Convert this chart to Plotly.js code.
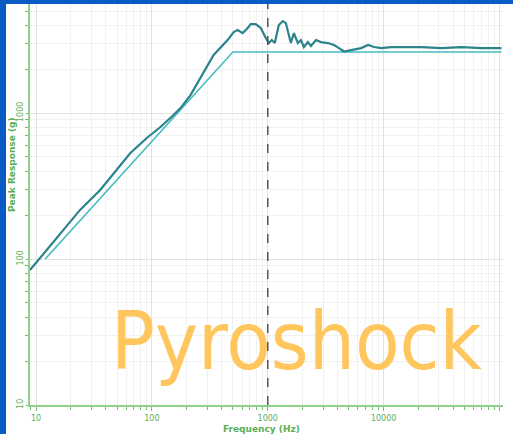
<!DOCTYPE html>
<html>
<head>
<meta charset="utf-8">
<script src="https://cdn.plot.ly/plotly-3.0.1.min.js"></script>
<style>html,body{margin:0;padding:0;background:#0a5bc4;}#chart{width:513px;height:434px;}</style>
</head>
<body>
<div id="chart"></div>
<script>
// Measured shock response spectrum (Hz, g)
var measFreq = [8.87, 13.2, 17.8, 24.0, 35.8, 46.4, 65.2, 91.4, 118.6, 153.6, 176.5, 215.4, 263, 341, 450, 508, 550, 607, 671, 713, 787, 870, 961, 1020, 1083, 1150, 1245, 1349, 1432, 1520, 1582, 1680, 1818, 1931, 2050, 2220, 2357, 2604, 2876, 3307, 3727, 4118, 4550, 5231, 6388, 7344, 8275, 9515, 11612, 14175, 17300, 21120, 31460, 46880, 69870, 104000];
var measG = [84, 123, 163, 217, 297, 382, 532, 680, 802, 969, 1082, 1328, 1737, 2497, 3162, 3587, 3703, 3530, 3822, 4070, 4070, 3822, 3263, 3017, 3162, 3017, 4006, 4267, 4134, 3422, 3017, 3530, 3017, 3162, 2832, 3064, 2876, 3162, 3064, 3017, 2923, 2787, 2640, 2701, 2787, 2923, 2832, 2787, 2832, 2832, 2832, 2832, 2787, 2832, 2787, 2787];
// Specification (Hz, g)
var specFreq = [12, 500, 104000];
var specG = [100, 2617, 2617];
var xTicks = [10, 100, 1000, 10000, 100000];
var xTickText = ['10', '100', '1000', '10000', '100000'];
var yTicks = [10, 100, 1000];
var yTickText = ['10', '100', '1000'];
var minorDigits = [2, 3, 4, 5, 6, 7, 8, 9];
var xDecades = [1, 10, 100, 1000, 10000, 100000];
var yDecades = [1, 10, 100, 1000];

function minorVals(decades) {
  var out = [];
  decades.forEach(function (d) { minorDigits.forEach(function (m) { out.push(d * m); }); });
  return out;
}

var green = '#6fbf6a';
var traces = [
  {x: specFreq, y: specG, type: 'scatter', mode: 'lines', line: {color: '#45bcc0', width: 1.6}, hoverinfo: 'skip'},
  {x: measFreq, y: measG, type: 'scatter', mode: 'lines', line: {color: '#2b838c', width: 2.2}, hoverinfo: 'skip'}
];
var L = 30, R = 10, T = 4, B = 29, W = 513, H = 434;
var pw = W - L - R, ph = H - T - B;
function px(xp) { return (xp - L) / pw; }
function py(yp) { return (H - B - yp) / ph; }
function axis(range, ticks, text, minors, extra) {
  var a = {
    type: 'log', range: range,
    tickmode: 'array', tickvals: ticks, ticktext: text,
    ticks: 'outside', ticklen: 4, tickcolor: green, tickwidth: 1,
    showline: true, linecolor: '#8fd08a', linewidth: 2,
    showgrid: true, gridcolor: '#e2e2e2', gridwidth: 1,
    minor: {tickmode: 'array', tickvals: minors, ticks: 'outside', ticklen: 3, tickcolor: green, tickwidth: 1, showgrid: true, gridcolor: '#f1f1f1', gridwidth: 1},
    tickfont: {family: 'DejaVu Sans', size: 8, color: '#5aae55'},
    zeroline: false, fixedrange: true
  };
  for (var k in extra) a[k] = extra[k];
  return a;
}
var layout = {
  width: W, height: H,
  margin: {l: L, r: R, t: T, b: B, pad: 0},
  paper_bgcolor: '#ffffff',
  plot_bgcolor: '#ffffff',
  showlegend: false,
  xaxis: axis([0.948, 5.03], xTicks, xTickText, minorVals(xDecades), {}),
  yaxis: axis([1.0, 3.747], yTicks, yTickText, minorVals(yDecades), {tickangle: -90, ticklen: 2}),
  shapes: [
    {type: 'line', xref: 'x', yref: 'paper', x0: 1000, x1: 1000, y0: 0, y1: 1, line: {color: '#555555', width: 1.5, dash: 'dash'}},
    {type: 'rect', xref: 'paper', yref: 'paper', x0: px(0), x1: px(6), y0: py(H), y1: py(0), fillcolor: '#0a5bc4', line: {width: 0}},
    {type: 'rect', xref: 'paper', yref: 'paper', x0: px(0), x1: px(W), y0: py(4), y1: py(0), fillcolor: '#0a5bc4', line: {width: 0}}
  ],
  annotations: [
    {text: '<b>Frequency (Hz)</b>', xref: 'paper', yref: 'paper', x: px(261), y: py(429), xanchor: 'center', yanchor: 'middle', showarrow: false, font: {family: 'DejaVu Sans', size: 9, color: '#5aae55'}},
    {text: '<b>Peak Response (g)</b>', xref: 'paper', yref: 'paper', x: px(12), y: py(165), xanchor: 'center', yanchor: 'middle', textangle: -90, showarrow: false, font: {family: 'DejaVu Sans', size: 9, color: '#5aae55'}},
    {text: 'Pyroshock', xref: 'paper', yref: 'paper', x: px(109), y: py(341), xanchor: 'left', yanchor: 'middle', showarrow: false, font: {family: 'DejaVu Sans Condensed, Liberation Sans Narrow, sans-serif', size: 81, color: '#ffc65e'}}
  ]
};
Plotly.newPlot('chart', traces, layout, {displayModeBar: false, staticPlot: true});
</script>
</body>
</html>
